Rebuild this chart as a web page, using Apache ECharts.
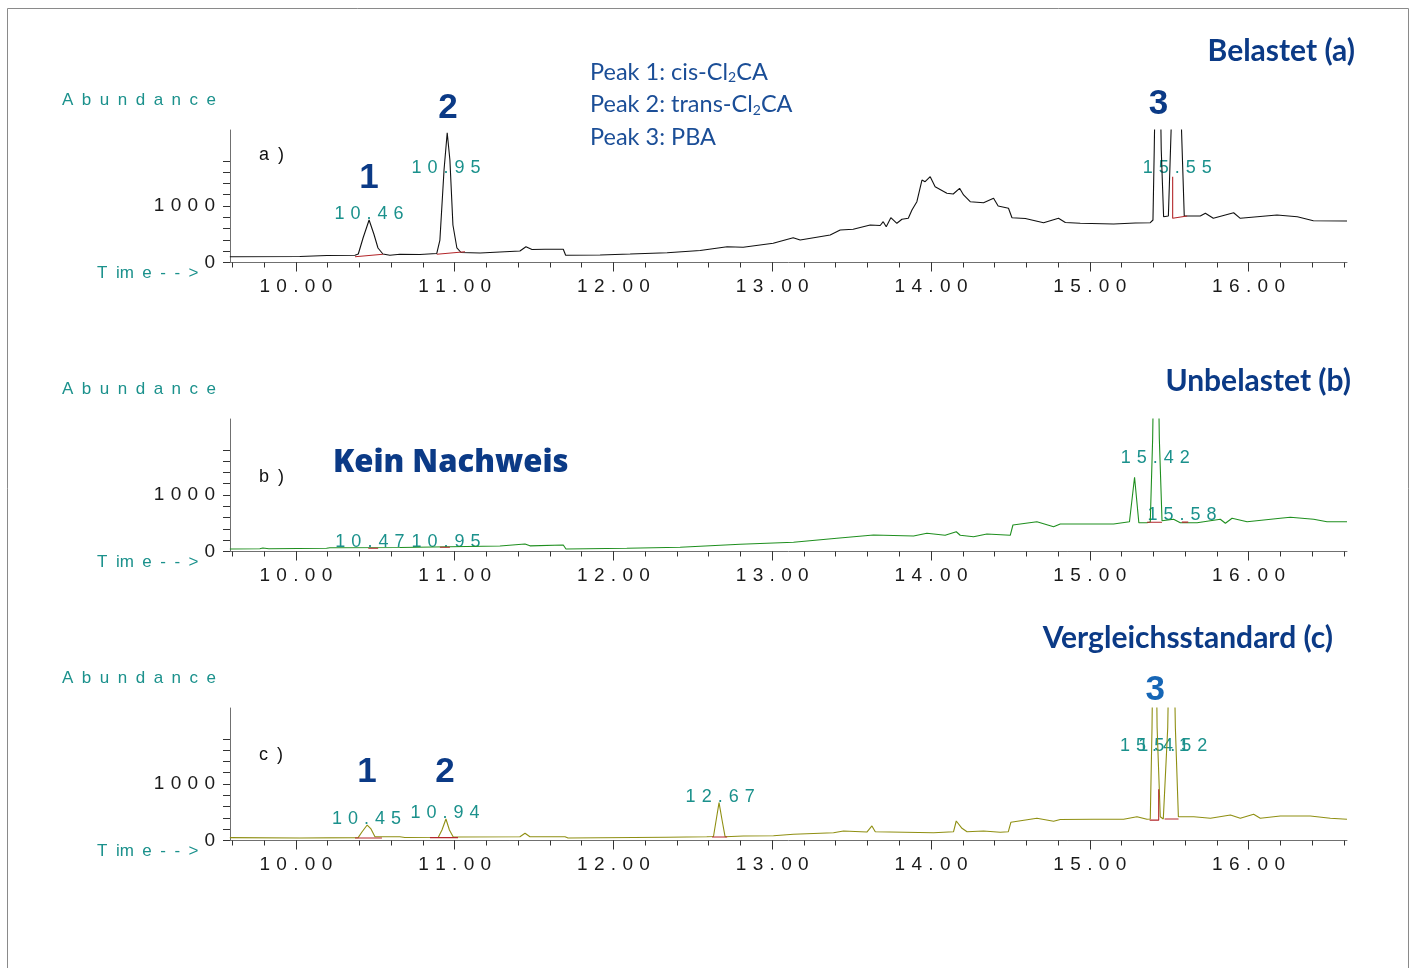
<!DOCTYPE html>
<html>
<head>
<meta charset="utf-8">
<title>Chromatogramme a/b/c</title>
<script src="https://cdn.jsdelivr.net/npm/echarts@6.0.0/dist/echarts.min.js"></script>
<style>
  html, body { margin: 0; padding: 0; background: #fff; }
  #chart { width: 1416px; height: 968px; }
</style>
</head>
<body>
<div id="chart"></div>
<script>
// Retention time (min), abundance
var traceA = [
  [9.584,103],[10.025,106],[10.195,124],[10.372,127],[10.393,150],[10.423,434],[10.461,752],[10.491,504],
  [10.517,257],[10.548,150],[10.592,127],[10.655,145],[10.781,142],[10.887,159],[10.907,398],[10.933,1637],
  [10.953,2297],[10.970,1814],[10.989,664],[11.014,257],[11.040,177],[11.160,168],[11.348,195],[11.411,204],
  [11.449,280],[11.487,230],[11.569,234],[11.684,234],[11.699,127],[11.916,133],[12.105,150],[12.338,173],
  [12.546,212],[12.716,280],[12.817,269],[13.006,340],[13.132,439],[13.176,398],[13.365,487],[13.428,575],
  [13.510,588],[13.617,664],[13.680,655],[13.699,722],[13.718,634],[13.747,793],[13.785,694],[13.817,765],
  [13.857,782],[13.880,929],[13.911,1076],[13.943,1460],[13.963,1430],[13.995,1519],[14.026,1342],[14.100,1225],
  [14.140,1212],[14.180,1313],[14.205,1195],[14.247,1076],[14.331,1058],[14.394,1136],[14.423,1000],[14.488,959],
  [14.510,793],[14.594,779],[14.709,704],[14.803,782],[14.846,708],[14.940,694],[15.150,681],[15.287,699],
  [15.381,704],[15.398,752],[15.406,2000],[15.428,6000],[15.450,2000],[15.465,810],[15.495,823],[15.514,2500],
  [15.545,6000],[15.576,2500],[15.595,823],[15.696,823],[15.728,871],[15.778,782],[15.906,881],[15.948,782],
  [16.179,841],[16.307,810],[16.408,740],[16.620,734]
];
var traceB = [
  [9.584,44],[9.773,48],[9.792,62],[9.830,48],[10.193,57],[10.214,67],[10.655,71],[11.285,97],
  [11.443,133],[11.474,100],[11.684,115],[11.701,44],[12.084,57],[12.420,74],[12.798,127],[13.134,163],
  [13.407,234],[13.638,292],[13.890,274],[13.974,322],[14.089,287],[14.159,350],[14.184,287],[14.268,262],
  [14.352,310],[14.499,287],[14.516,469],[14.667,527],[14.772,439],[14.814,487],[15.150,487],[15.250,527],
  [15.282,1313],[15.309,510],[15.360,510],[15.381,522],[15.396,2000],[15.417,6000],[15.438,2000],[15.455,545],
  [15.528,570],[15.570,510],[15.676,510],[15.822,570],[15.854,499],[15.896,588],[15.991,527],[16.200,588],
  [16.263,605],[16.410,570],[16.494,527],[16.620,527]
];
var traceC = [
  [9.584,50],[10.025,44],[10.392,50],[10.416,150],[10.449,274],[10.473,204],[10.498,67],[10.655,67],
  [10.686,53],[10.897,57],[10.920,186],[10.945,381],[10.967,186],[10.991,62],[11.411,67],[11.443,127],
  [11.474,67],[11.695,67],[11.714,44],[12.336,57],[12.588,67],[12.630,71],[12.647,363],[12.665,669],
  [12.684,363],[12.703,67],[12.819,80],[13.008,85],[13.134,110],[13.386,138],[13.449,168],[13.596,150],
  [13.628,257],[13.649,156],[14.016,138],[14.142,156],[14.159,345],[14.195,216],[14.227,156],[14.331,168],
  [14.436,145],[14.487,156],[14.503,322],[14.667,393],[14.772,340],[14.814,372],[15.024,375],[15.213,375],
  [15.297,421],[15.360,375],[15.381,381],[15.392,2000],[15.408,6000],[15.424,2000],[15.444,421],[15.463,381],
  [15.491,2000],[15.514,6000],[15.539,2000],[15.558,421],[15.655,421],[15.760,393],[15.886,451],[15.948,393],
  [16.032,464],[16.074,393],[16.200,434],[16.389,434],[16.515,393],[16.620,375]
];

// integration baselines (red)
var baselinesA = [
  [[10.372,103],[10.548,145]],
  [[10.887,145],[11.065,191]],
  [[15.522,1519],[15.522,782],[15.613,823]]
];
var baselinesB = [
  [[10.456,57],[10.518,57]],
  [[10.907,74],[10.970,74]],
  [[15.360,517],[15.455,517]],
  [[15.580,520],[15.620,520]]
];
var baselinesC = [
  [[10.372,44],[10.542,44]],
  [[10.844,50],[11.021,50]],
  [[12.621,62],[12.716,62]],
  [[15.377,360],[15.434,360],[15.434,906]],
  [[15.471,380],[15.559,380]]
];

// retention time labels: time, abundance, text
var rtLabelsA = [[10.46,858,'10.46'],[10.945,1673,'10.95'],[15.551,1673,'15.55']];
var rtLabelsB = [[10.466,173,'10.47'],[10.945,173,'10.95'],[15.413,1650,'15.42'],[15.581,646,'15.58']];
var rtLabelsC = [[10.445,375,'10.45'],[10.939,492,'10.94'],[12.672,775,'12.67'],[15.408,1673,'15.41'],[15.523,1673,'15.52']];

// peak numbers
var peakNumsA = [[10.461,1496,'1'],[10.958,2735,'2'],[15.432,2805,'3']];
var peakNumsB = [];
var peakNumsC = [[10.447,1212,'1'],[10.939,1212,'2'],[15.413,2664,'3']];

var majorTimeTicks = [10, 11, 12, 13, 14, 15, 16];
var minorTimeTicks = [9.6, 9.8, 10.0, 10.2, 10.4, 10.6, 10.8, 11.0, 11.2, 11.4, 11.6, 11.8, 12.0, 12.2, 12.4,
  12.6, 12.8, 13.0, 13.2, 13.4, 13.6, 13.8, 14.0, 14.2, 14.4, 14.6, 14.8, 15.0, 15.2, 15.4, 15.6, 15.8, 16.0,
  16.2, 16.4, 16.6];
var abundanceTicks = [0, 200, 400, 600, 800, 1000, 1200, 1400, 1600, 1800];
var abundanceLabels = [0, 1000];

var legendLines = ['Peak 1: cis-Cl{s|2}CA', 'Peak 2: trans-Cl{s|2}CA', 'Peak 3: PBA'];

var TEAL = '#1b918c';
var NAVY = '#0b3a86';
var AXIS_FONT = '"Liberation Sans", Arial, sans-serif';

function spaced(s, sp) {
  return String(s).split('').join(sp || '\u2004');
}

var panels = [
  { top: 130, trace: traceA, color: '#111111', base: baselinesA, rt: rtLabelsA, nums: peakNumsA, tag: 'a', tagY: 155 },
  { top: 419, trace: traceB, color: '#1f8f1f', base: baselinesB, rt: rtLabelsB, nums: peakNumsB, tag: 'b', tagY: 477 },
  { top: 708, trace: traceC, color: '#8f8f12', base: baselinesC, rt: rtLabelsC, nums: peakNumsC, tag: 'c', tagY: 755 }
];

var chart = echarts.init(document.getElementById('chart'), null, { renderer: 'canvas' });

var grids = [], xAxes = [], yAxes = [], series = [];

panels.forEach(function (p, i) {
  grids.push({ left: 230, top: p.top, width: 1117, height: 132.5 });

  // minor ticks + axis line
  xAxes.push({
    type: 'value', gridIndex: i, min: 9.585, max: 16.62, position: 'bottom',
    axisLine: { show: true, lineStyle: { color: '#707070', width: 1 } },
    axisTick: { show: true, customValues: minorTimeTicks, length: 5, lineStyle: { color: '#333' } },
    axisLabel: { show: false },
    splitLine: { show: false }
  });
  // major ticks + labels
  xAxes.push({
    type: 'value', gridIndex: i, min: 9.585, max: 16.62, position: 'bottom',
    axisLine: { show: false },
    axisTick: { show: true, customValues: majorTimeTicks, length: 9, lineStyle: { color: '#333' } },
    axisLabel: {
      show: true, customValues: majorTimeTicks, margin: 15,
      color: '#1a1a1a', fontSize: 19, fontFamily: AXIS_FONT,
      formatter: function (v) { return spaced(v.toFixed(2)); }
    },
    splitLine: { show: false }
  });

  yAxes.push({
    type: 'value', gridIndex: i, min: 0, max: 2345,
    axisLine: { show: true, lineStyle: { color: '#707070', width: 1 } },
    axisTick: { show: true, customValues: abundanceTicks, length: 7, lineStyle: { color: '#333' } },
    axisLabel: {
      show: true, customValues: abundanceLabels, margin: 15,
      color: '#1a1a1a', fontSize: 19, fontFamily: AXIS_FONT,
      formatter: function (v) { return spaced(v); }
    },
    splitLine: { show: false }
  });

  series.push({
    type: 'line', xAxisIndex: 2 * i, yAxisIndex: i,
    data: p.trace, showSymbol: false, symbol: 'none', smooth: false, clip: true,
    lineStyle: { color: p.color, width: 1.1 }, silent: true
  });

  p.base.forEach(function (seg) {
    series.push({
      type: 'line', xAxisIndex: 2 * i, yAxisIndex: i,
      data: seg, symbol: 'none', clip: true,
      lineStyle: { color: '#b3262a', width: 1.1 }, silent: true
    });
  });

  series.push({
    type: 'scatter', xAxisIndex: 2 * i, yAxisIndex: i, clip: false, silent: true,
    symbolSize: 1, itemStyle: { color: 'rgba(0,0,0,0)', opacity: 1 },
    data: p.rt.map(function (r) { return { value: [r[0], r[1]], name: r[2] }; }),
    label: {
      show: true, position: 'inside', color: TEAL, fontSize: 18, fontFamily: AXIS_FONT,
      formatter: function (d) { return spaced(d.name); }
    }
  });

  series.push({
    type: 'scatter', xAxisIndex: 2 * i, yAxisIndex: i, clip: false, silent: true,
    symbolSize: 1, itemStyle: { color: 'rgba(0,0,0,0)', opacity: 1 },
    data: p.nums.map(function (r) {
      var c = (i === 2 && r[2] === '3') ? '#1666b6' : NAVY;
      return { value: [r[0], r[1]], name: r[2], label: { color: c } };
    }),
    label: {
      show: true, position: 'inside', fontSize: 35, fontWeight: 'bold',
      fontFamily: AXIS_FONT, formatter: '{b}'
    }
  });
});

var graphic = [
  { type: 'rect', silent: true, shape: { x: 7.5, y: 8.5, width: 1401, height: 1000 },
    style: { fill: 'none', stroke: '#8a8a8a', lineWidth: 1 } }
];

var titleTexts = [
  { text: 'Belastet (a)', x: 1355, y: 51 },
  { text: 'Unbelastet (b)', x: 1351, y: 381 },
  { text: 'Vergleichsstandard (c)', x: 1333, y: 638 }
];

panels.forEach(function (p, i) {
  var off = p.top - 130;
  graphic.push({ type: 'text', silent: true, x: 62, y: 100 + off,
    style: { text: spaced('Abundance', '\u2002'), fill: TEAL, font: '17px ' + AXIS_FONT, verticalAlign: 'middle' } });
  graphic.push({ type: 'text', silent: true, x: 97, y: 273 + off,
    style: { text: 'T\u2002im\u2002e\u2002-\u2002-\u2002>', fill: TEAL, font: '17px ' + AXIS_FONT, verticalAlign: 'middle' } });
  graphic.push({ type: 'text', silent: true, x: 259, y: p.tagY,
    style: { text: p.tag + '\u2002)', fill: '#111', font: '18px ' + AXIS_FONT, verticalAlign: 'middle' } });
  graphic.push({ type: 'text', silent: true, x: titleTexts[i].x, y: titleTexts[i].y,
    style: { text: titleTexts[i].text, fill: NAVY, font: 'bold 30px Lato, "Open Sans", sans-serif',
      align: 'right', verticalAlign: 'middle' } });
});

graphic.push({ type: 'text', silent: true, x: 333, y: 463,
  style: { text: 'Kein Nachweis', fill: NAVY, font: '800 31px "Open Sans", "Noto Sans", sans-serif', verticalAlign: 'middle' } });

legendLines.forEach(function (t, k) {
  graphic.push({ type: 'text', silent: true, x: 590, y: 72 + k * 32.5,
    style: {
      text: t, fill: '#1b4e97', font: '23.5px Lato, "Open Sans", sans-serif', verticalAlign: 'middle',
      rich: { s: { fontSize: 14, fontFamily: 'Lato', fill: '#1b4e97', padding: [11, 0, 0, 0] } }
    } });
});

chart.setOption({
  animation: false,
  backgroundColor: '#ffffff',
  grid: grids,
  xAxis: xAxes,
  yAxis: yAxes,
  series: series,
  graphic: graphic
});
</script>
</body>
</html>
